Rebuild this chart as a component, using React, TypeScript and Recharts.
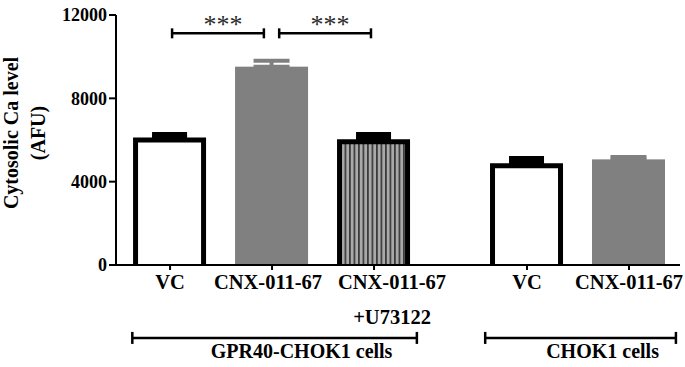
import React from 'react';
import { BarChart, Bar, XAxis, YAxis, ErrorBar, ReferenceLine } from 'recharts';

// values (AFU)
const categories = ['VC', 'CNX-011-67', 'CNX-011-67', 'VC', 'CNX-011-67'];
const subLabels = ['', '', '+U73122', '', ''];
const positions = [0, 1, 2, 3.5, 4.5];
const means = [6120, 9520, 6040, 4890, 5070];
const sems = [140, 280, 225, 225, 110];
const yTicks = [0, 4000, 8000, 12000];

// significance brackets and group brackets, in data units
const sigBrackets = [
  { x1: 0.02, x2: 0.92, y: 11120, text: '***' },
  { x1: 1.07, x2: 1.97, y: 11120, text: '***' },
];
const groupBrackets = [
  { x1: -0.37, x2: 2.42, y: -3500, text: 'GPR40-CHOK1 cells', shift: 27 },
  { x1: 3.09, x2: 4.96, y: -3500, text: 'CHOK1 cells', shift: 22 },
];

const barLook = ['open', 'gray', 'striped', 'open', 'gray'];
// labels are nudged sideways in the original figure
const labelNudge = [0, -4, 18, 0, 0];

const FONT = '"Liberation Serif", "Times New Roman", serif';
const GRAY = '#808080';

const data = positions.map((pos, i) => ({
  pos,
  mean: means[i],
  look: barLook[i],
  errBlack: barLook[i] !== 'gray' ? [0, sems[i]] : undefined,
  errGray: barLook[i] === 'gray' ? [0, sems[i]] : undefined,
}));

const BarShape = (props: any) => {
  const { x, y, width, height, payload } = props;
  if (payload.look === 'gray') {
    return <rect x={x} y={y} width={width} height={height} fill={GRAY} />;
  }
  const s = 5;
  const h = s / 2;
  return (
    <g>
      <defs>
        <pattern id="stripes" width="4.5" height="10" patternUnits="userSpaceOnUse" x={x}>
          <rect width="4.5" height="10" fill="#a9a9a9" />
          <rect width="1.7" height="10" fill="#3a3a3a" />
        </pattern>
      </defs>
      <rect
        x={x + h}
        y={y + h}
        width={width - s}
        height={height - h}
        fill={payload.look === 'striped' ? 'url(#stripes)' : '#fff'}
      />
      <path
        d={`M${x + h},${y + height} V${y + h} H${x + width - h} V${y + height}`}
        fill="none"
        stroke="#000"
        strokeWidth={s}
      />
    </g>
  );
};

const XTick = (props: any) => {
  const { x, y, payload } = props;
  const i = positions.indexOf(payload.value);
  const cx = x + labelNudge[i];
  return (
    <g fontFamily={FONT} fontWeight="bold" fontSize={20.5} fill="#000">
      <text x={cx} y={y + 17} textAnchor="middle">
        {categories[i]}
      </text>
      {subLabels[i] && (
        <text x={cx} y={y + 52} textAnchor="middle">
          {subLabels[i]}
        </text>
      )}
    </g>
  );
};

const makeBracket = (text: string, tick: number, dx: number, dy: number, size: number, bold: boolean) => (props: any) => {
  const { x, y, width } = props.viewBox;
  return (
    <g>
      <line x1={x} y1={y - tick} x2={x} y2={y + tick} stroke="#000" strokeWidth={2.5} />
      <line x1={x + width} y1={y - tick} x2={x + width} y2={y + tick} stroke="#000" strokeWidth={2.5} />
      <text
        x={x + width / 2 + dx}
        y={y + dy}
        textAnchor="middle"
        fontFamily={FONT}
        fontWeight={bold ? 'bold' : 'normal'}
        fontSize={size}
        fill={bold ? '#000' : '#2a2a2a'}
      >
        {text}
      </text>
    </g>
  );
};

const YLabel = () => (
  <g fontFamily={FONT} fontWeight="bold" fontSize={20} fill="#000">
    <text transform="translate(18,133) rotate(-90)" textAnchor="middle">Cytosolic Ca level</text>
    <text transform="translate(45,133) rotate(-90)" textAnchor="middle">(AFU)</text>
  </g>
);

export default function App() {
  return (
    <div style={{ width: 685, height: 367, background: '#fff' }}>
      <style>{'body{margin:0;}'}</style>
      <BarChart width={685} height={367} data={data} margin={{ top: 15, right: 5, left: 0, bottom: 0 }}>
        <XAxis
          type="number"
          dataKey="pos"
          domain={[-0.53, 5]}
          ticks={positions}
          interval={0}
          height={102}
          tickSize={5}
          tick={<XTick />}
          axisLine={{ stroke: '#000', strokeWidth: 2 }}
          tickLine={{ stroke: '#000', strokeWidth: 2 }}
        />
        <YAxis
          domain={[0, 12000]}
          ticks={yTicks}
          width={116}
          tickSize={7}
          tickMargin={2}
          axisLine={{ stroke: '#000', strokeWidth: 2 }}
          tickLine={{ stroke: '#000', strokeWidth: 2 }}
          tick={{ fontFamily: FONT, fontWeight: 'bold', fontSize: 18, fill: '#000' }}
          label={{ content: YLabel }}
        />
        <Bar dataKey="mean" barSize={73} shape={<BarShape />} isAnimationActive={false}>
          <ErrorBar dataKey="errBlack" width={17.5} stroke="#000" strokeWidth={5} isAnimationActive={false} />
          <ErrorBar dataKey="errGray" width={18} stroke={GRAY} strokeWidth={4} isAnimationActive={false} />
        </Bar>
        {sigBrackets.map((b, i) => (
          <ReferenceLine
            key={'s' + i}
            segment={[{ x: b.x1, y: b.y }, { x: b.x2, y: b.y }]}
            stroke="#000"
            strokeWidth={2.5}
            ifOverflow="visible"
            label={makeBracket(b.text, 5, 5, 0, 26, false)}
          />
        ))}
        {groupBrackets.map((b, i) => (
          <ReferenceLine
            key={'g' + i}
            segment={[{ x: b.x1, y: b.y }, { x: b.x2, y: b.y }]}
            stroke="#000"
            strokeWidth={2.5}
            ifOverflow="visible"
            label={makeBracket(b.text, 6, b.shift, 20, 20, true)}
          />
        ))}
      </BarChart>
    </div>
  );
}
